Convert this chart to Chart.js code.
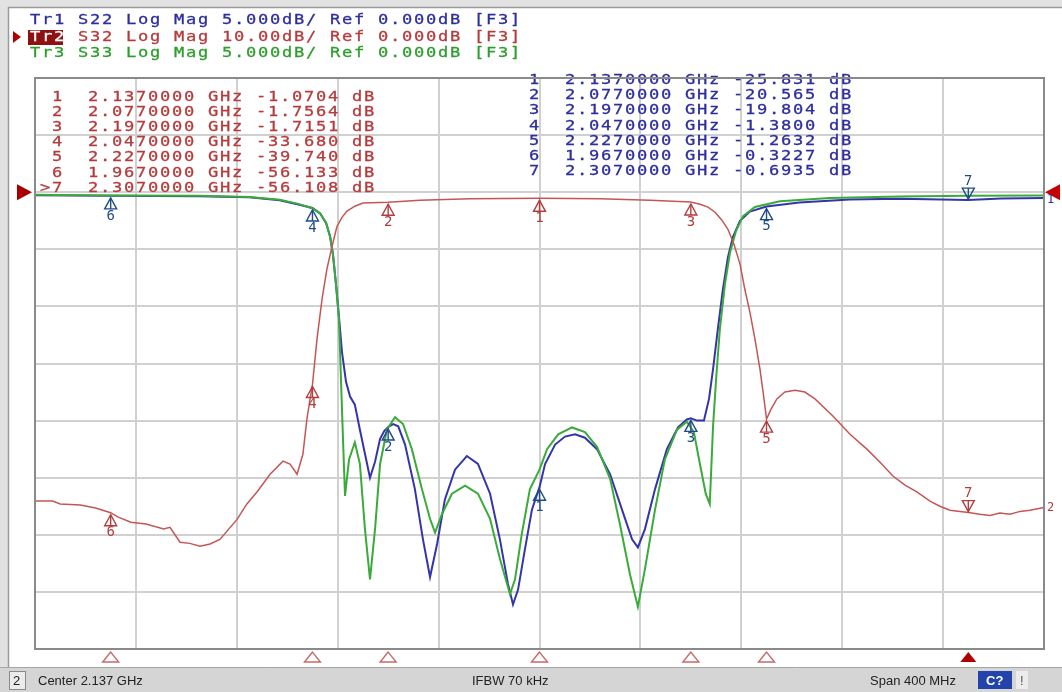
<!DOCTYPE html>
<html><head><meta charset="utf-8">
<script src="https://cdn.jsdelivr.net/npm/chart.js@4.4.1/dist/chart.umd.min.js"></script>
<style>html,body{margin:0;padding:0;background:#fff;overflow:hidden}canvas{display:block}</style>
</head><body>
<canvas id="c" width="1062" height="692" style="width:1062px;height:692px"></canvas>
<script>
// ---- sweep settings ----
const centerGHz = 2.137;
const spanMHz = 400;
const divisions = 10;

// ---- header lines ----
const traceNames = ['Tr1', 'Tr2', 'Tr3'];
const traceParams = ['S22', 'S32', 'S33'];
const traceScales = ['5.000dB/', '10.00dB/', '5.000dB/'];
const traceRefs = ['0.000dB', '0.000dB', '0.000dB'];

// ---- Tr1 S22 (MHz, dB) ----
const s22Freq = [1937,1967,2002,2022,2034,2041,2047,2050,2052.4,2054,2055.1,2056.3,2057.5,2058.7,2060.3,2061.9,2063.8,2065.8,2067.8,2069.8,2071.8,2073.8,2075.5,2077,2079,2081,2083.7,2087.6,2090.8,2093.6,2096.4,2099.5,2103.5,2108.2,2112.6,2117.4,2121.3,2124.5,2126.5,2128.5,2131.2,2134,2137,2139.2,2143.2,2147.1,2151.1,2155,2159.8,2165,2169.7,2173.7,2176,2178.8,2182.8,2187.5,2191.9,2195.4,2197,2199.4,2202.2,2204.2,2205.8,2207.7,2209.7,2211.7,2213.7,2216.5,2220.4,2227,2240,2260,2280,2307,2320,2337];
const s22Db = [-0.26,-0.32,-0.35,-0.45,-0.7,-1.05,-1.38,-1.85,-2.7,-3.9,-5.4,-8.0,-10.9,-14.0,-16.6,-17.9,-18.6,-20.8,-22.9,-25.0,-23.6,-21.6,-20.9,-20.56,-20.3,-20.5,-22.1,-26.0,-30.4,-33.7,-30.8,-26.9,-24.3,-23.1,-23.8,-26.4,-30.4,-34.3,-36.1,-34.8,-31.3,-27.8,-25.83,-23.8,-22.1,-21.4,-21.2,-21.5,-22.5,-24.7,-27.8,-30.4,-31.1,-29.5,-26,-22.5,-20.6,-19.9,-19.8,-20.0,-20.0,-18.1,-15.5,-12,-8.5,-5.7,-3.9,-2.5,-1.7,-1.26,-0.9,-0.65,-0.58,-0.69,-0.55,-0.5];

// ---- Tr3 S33 (MHz, dB) ----
const s33Freq = [1937,1967,2002,2022,2034,2041,2047,2050,2052.4,2054,2055.1,2056.3,2057.5,2058.3,2059.1,2059.9,2061.5,2063.8,2065.8,2067.8,2069.8,2071.8,2073.8,2076.5,2079.7,2082.9,2086.4,2090.4,2093.6,2095.6,2098.3,2102.3,2107.5,2112.6,2117.4,2121.3,2125.3,2127.3,2130,2133.2,2137,2140,2144.4,2149.9,2155,2159.8,2165,2168.9,2172.9,2176,2178.8,2182.8,2186.7,2191.5,2195.4,2198.2,2200.6,2202.9,2204.5,2205.8,2207,2208.5,2210.5,2212.5,2214.9,2217.7,2222.4,2232.3,2252,2280,2307,2337];
const s33Db = [-0.22,-0.28,-0.32,-0.42,-0.67,-1.0,-1.4,-1.85,-2.7,-3.9,-5.4,-8.0,-11.1,-16.4,-21.6,-26.6,-23.4,-21.9,-23.8,-29.5,-33.9,-29.5,-23.8,-20.8,-19.7,-20.3,-22.5,-26,-28.6,-29.8,-28.2,-26.4,-25.7,-26.4,-28.6,-32.1,-35.2,-33.9,-29.9,-26,-24.3,-22.5,-21.2,-20.6,-21,-22.3,-25.1,-29.1,-33.5,-36.3,-33,-27.8,-23.4,-20.8,-20.1,-21,-23.8,-26.4,-27.3,-20.5,-16.4,-12,-8.1,-5.3,-3.4,-2.1,-1.3,-0.8,-0.5,-0.38,-0.32,-0.28];

// ---- Tr2 S32 (MHz, dB) ----
const s32Freq = [1937,1944,1947,1955,1961,1967,1970,1975,1981,1988,1990.5,1994.5,1998.4,2002.4,2006.4,2010.3,2017.1,2021,2025,2030.2,2035.3,2038.1,2040.9,2043.2,2044.8,2047,2048.8,2050.8,2052.7,2054.7,2056.7,2058.7,2060.7,2063.8,2067,2077,2089.6,2109.4,2137,2161,2180.8,2197,2200.6,2203.8,2206.6,2209.3,2211.7,2214.1,2216.5,2218.4,2220.4,2222.4,2224.4,2226,2227,2228.8,2231.1,2234.3,2238.3,2242.2,2246.2,2253.3,2260.1,2266.8,2272,2277.1,2281.9,2286.6,2291.8,2295.7,2299.7,2307,2311.6,2315.6,2319.5,2323.5,2327.5,2331.4,2337];
const s32Db = [-54.1,-54.1,-54.6,-54.8,-55.3,-56.13,-56.9,-57.8,-58.1,-59.0,-58.7,-61.3,-61.5,-62.0,-61.6,-60.8,-57.3,-54.6,-52.5,-49.4,-47.1,-47.6,-49.4,-45.9,-39.7,-33.68,-25.7,-18.7,-13.5,-9.6,-6.0,-4.4,-3.3,-2.45,-1.9,-1.756,-1.4,-1.15,-1.07,-1.15,-1.4,-1.715,-2.1,-2.6,-3.5,-4.9,-6.5,-9.1,-12.6,-17,-21,-25.7,-31,-36.2,-39.74,-38,-36.2,-35,-34.7,-35,-36.2,-39.2,-42.4,-45,-47.3,-49.7,-51.3,-52.5,-54.1,-55,-55.7,-56.108,-56.4,-56.6,-56.2,-56.4,-55.9,-55.7,-55.2];

// ---- markers ----
const markerNums = [1, 2, 3, 4, 5, 6, 7];
const markerFreqGHz = [2.137, 2.077, 2.197, 2.047, 2.227, 1.967, 2.307];
const s32MarkerDb = [-1.0704, -1.7564, -1.7151, -33.680, -39.740, -56.133, -56.108];
const s22MarkerDb = [-25.831, -20.565, -19.804, -1.3800, -1.2632, -0.3227, -0.6935];
const activeMarker = 7;

// ---- status bar ----
const statusLeft = 'Center 2.137 GHz';
const statusMid = 'IFBW 70 kHz';
const statusRight = 'Span 400 MHz';

const BLUE = '#3535aa', RED = '#c45656', GREEN = '#3aaa3a';
const BLUE_TXT = '#2e2e9c', RED_TXT = '#b43c3c', GREEN_TXT = '#2e9e2e';
const MK_BLUE = '#1f4c86';

const startMHz = centerGHz * 1000 - spanMHz / 2;
const stopMHz = centerGHz * 1000 + spanMHz / 2;

function pts(f, d) { return f.map((v, i) => ({ x: v, y: d[i] })); }
function fmtDb(v) { return (Math.abs(v) >= 10 ? v.toFixed(3) : v.toFixed(4)).padStart(7, ' '); }

function mono(ctx, str, x, y, color, cell, size) {
  cell = cell || 12; size = size || 14;
  ctx.save();
  ctx.font = size + 'px "DejaVu Sans Mono"';
  ctx.textBaseline = 'middle';
  ctx.textAlign = 'left';
  ctx.fillStyle = color;
  ctx.strokeStyle = color;
  ctx.lineWidth = 0.3;
  for (let i = 0; i < str.length; i++) {
    const ch = str[i];
    if (ch === ' ') continue;
    ctx.save();
    ctx.translate(x + i * cell, y);
    ctx.scale(1.22, 1);
    ctx.fillText(ch, 0, 0);
    ctx.strokeText(ch, 0, 0);
    ctx.restore();
  }
  ctx.restore();
}

function tri(ctx, x, y, up, w, h, color, fill) {
  ctx.beginPath();
  if (up) { ctx.moveTo(x, y); ctx.lineTo(x - w / 2, y + h); ctx.lineTo(x + w / 2, y + h); }
  else { ctx.moveTo(x, y); ctx.lineTo(x - w / 2, y - h); ctx.lineTo(x + w / 2, y - h); }
  ctx.closePath();
  if (fill) { ctx.fillStyle = color; ctx.fill(); }
  else { ctx.strokeStyle = color; ctx.lineWidth = 1.4; ctx.stroke(); }
}

function traceMarker(ctx, x, y, num, color, active) {
  ctx.save();
  ctx.font = '14px "DejaVu Sans Mono"';
  ctx.textAlign = 'center';
  ctx.textBaseline = 'middle';
  ctx.fillStyle = color;
  ctx.lineWidth = 1.4;
  if (active) {
    tri(ctx, x, y - 1, false, 12, 11, color, false);
    ctx.beginPath(); ctx.moveTo(x, y - 1); ctx.lineTo(x, y - 12); ctx.strokeStyle = color; ctx.stroke();
    ctx.fillText(String(num), x, y - 19);
  } else {
    tri(ctx, x, y + 2, true, 12, 11, color, false);
    ctx.beginPath(); ctx.moveTo(x, y + 2); ctx.lineTo(x, y + 13); ctx.strokeStyle = color; ctx.stroke();
    ctx.fillText(String(num), x, y + 20);
  }
  ctx.restore();
}

const decor = {
  id: 'decor',
  beforeDraw(chart) {
    const ctx = chart.ctx;
    ctx.save();
    ctx.fillStyle = '#fff';
    ctx.fillRect(0, 0, chart.width, chart.height);
    ctx.fillStyle = '#e2e2e2';
    ctx.fillRect(0, 0, chart.width, 7);
    ctx.fillRect(0, 0, 8, chart.height);
    ctx.strokeStyle = '#9a9a9a';
    ctx.lineWidth = 1.5;
    ctx.beginPath(); ctx.moveTo(8, 7.5); ctx.lineTo(chart.width, 7.5); ctx.stroke();
    ctx.beginPath(); ctx.moveTo(8.5, 7); ctx.lineTo(8.5, 668); ctx.stroke();
    ctx.restore();
  },
  beforeDatasetsDraw(chart) {
    const ctx = chart.ctx;
    markerNums.forEach((n, i) => {
      const pre = (n === activeMarker ? '>' : ' ') + n;
      const s = pre + '  ' + markerFreqGHz[i].toFixed(7) + ' GHz ' + fmtDb(s32MarkerDb[i]) + ' dB';
      mono(ctx, s, 40, 97 + i * 15.2, RED_TXT, 12, 14);
      const b = ' ' + n + '  ' + markerFreqGHz[i].toFixed(7) + ' GHz ' + fmtDb(s22MarkerDb[i]) + ' dB';
      mono(ctx, b, 517, 80 + i * 15.3, BLUE_TXT, 12, 14);
    });
  },
  afterDatasetsDraw(chart) {
    const ctx = chart.ctx;
    const a = chart.chartArea;
    const xs = chart.scales.x, y1 = chart.scales.y, y2 = chart.scales.y2;
    ctx.save();
    ctx.strokeStyle = '#8a8a8a';
    ctx.lineWidth = 2;
    ctx.strokeRect(a.left, a.top, a.right - a.left, a.bottom - a.top);

    markerNums.forEach((n, i) => {
      const x = xs.getPixelForValue(markerFreqGHz[i] * 1000);
      const act = n === activeMarker;
      traceMarker(ctx, x, y2.getPixelForValue(s32MarkerDb[i]), n, RED_TXT, act);
      traceMarker(ctx, x, y1.getPixelForValue(s22MarkerDb[i]), n, MK_BLUE, act);
      tri(ctx, x, a.bottom + 3, true, 16, 10, act ? '#b00000' : '#c86a6a', act);
    });

    const yr = y1.getPixelForValue(0);
    ctx.fillStyle = '#a80000';
    ctx.beginPath(); ctx.moveTo(17, yr - 8); ctx.lineTo(17, yr + 8); ctx.lineTo(32, yr); ctx.closePath(); ctx.fill();
    ctx.fillStyle = '#c40000';
    ctx.beginPath(); ctx.moveTo(1060, yr - 8); ctx.lineTo(1060, yr + 8); ctx.lineTo(1045, yr); ctx.closePath(); ctx.fill();

    ctx.font = '12px "DejaVu Sans Mono"';
    ctx.textBaseline = 'middle';
    ctx.textAlign = 'left';
    ctx.fillStyle = BLUE_TXT;
    ctx.fillText('1', 1047, y1.getPixelForValue(s22Db[s22Db.length - 1]) + 2);
    ctx.fillStyle = RED_TXT;
    ctx.fillText('2', 1047, y2.getPixelForValue(s32Db[s32Db.length - 1]));

    const cols = [BLUE_TXT, RED_TXT, GREEN_TXT];
    const ys = [20, 37, 53];
    traceNames.forEach((t, i) => {
      if (i === 1) {
        ctx.fillStyle = '#8e1010';
        ctx.fillRect(28, ys[i] - 7, 35, 15);
        ctx.fillStyle = '#b00000';
        ctx.beginPath(); ctx.moveTo(13, ys[i] - 6); ctx.lineTo(13, ys[i] + 6); ctx.lineTo(21, ys[i]); ctx.closePath(); ctx.fill();
        mono(ctx, t, 30, ys[i], '#ffffff', 12, 14);
      } else {
        mono(ctx, t, 30, ys[i], cols[i], 12, 14);
      }
      const rest = '    ' + traceParams[i] + ' Log Mag ' + traceScales[i] + ' Ref ' + traceRefs[i] + ' [F3]';
      mono(ctx, rest, 30, ys[i], cols[i], 12, 14);
    });

    ctx.fillStyle = '#d5d5d5';
    ctx.fillRect(0, 667, chart.width, 25);
    ctx.strokeStyle = '#a5a5a5'; ctx.lineWidth = 1;
    ctx.beginPath(); ctx.moveTo(0, 667.5); ctx.lineTo(chart.width, 667.5); ctx.stroke();
    ctx.fillStyle = '#ececec';
    ctx.fillRect(9, 671, 16, 18);
    ctx.strokeStyle = '#8a8a8a';
    ctx.strokeRect(9.5, 671.5, 16, 18);
    ctx.font = '13px "Liberation Sans"';
    ctx.textBaseline = 'middle';
    ctx.fillStyle = '#222';
    ctx.fillText('2', 13, 681);
    ctx.fillText(statusLeft, 38, 681);
    ctx.fillText(statusMid, 472, 681);
    ctx.fillText(statusRight, 870, 681);
    ctx.fillStyle = '#2244aa';
    ctx.fillRect(978, 671, 34, 18);
    ctx.fillStyle = '#ffffff';
    ctx.font = 'bold 13px "Liberation Sans"';
    ctx.fillText('C?', 986, 681);
    ctx.fillStyle = '#ececec';
    ctx.fillRect(1016, 671, 12, 18);
    ctx.fillStyle = '#555';
    ctx.font = '13px "Liberation Sans"';
    ctx.fillText('!', 1020, 681);
    ctx.restore();
  }
};

new Chart(document.getElementById('c'), {
  type: 'line',
  data: {
    datasets: [
      { label: 'S32', data: pts(s32Freq, s32Db), yAxisID: 'y2', borderColor: RED, borderWidth: 1.5 },
      { label: 'S33', data: pts(s33Freq, s33Db), yAxisID: 'y', borderColor: GREEN, borderWidth: 2 },
      { label: 'S22', data: pts(s22Freq, s22Db), yAxisID: 'y', borderColor: BLUE, borderWidth: 2 }
    ]
  },
  options: {
    responsive: false,
    animation: false,
    devicePixelRatio: 1,
    elements: { point: { radius: 0 }, line: { tension: 0 } },
    layout: { padding: { left: 35, right: 18, top: 78, bottom: 43 } },
    plugins: { legend: { display: false }, tooltip: { enabled: false } },
    scales: {
      x: {
        type: 'linear', min: startMHz, max: stopMHz,
        afterBuildTicks(axis) {
          const t = [];
          for (let i = 0; i <= divisions; i++) t.push({ value: startMHz + i * spanMHz / divisions });
          axis.ticks = t;
        },
        ticks: { display: false },
        grid: { color: '#d0d0d0', lineWidth: 2, drawTicks: false },
        border: { display: false }
      },
      y: {
        min: -40, max: 10,
        ticks: { display: false, stepSize: 5 },
        grid: { color: '#d0d0d0', lineWidth: 2, drawTicks: false },
        border: { display: false }
      },
      y2: { display: false, min: -80, max: 20 }
    }
  },
  plugins: [decor]
});
</script>
</body></html>
